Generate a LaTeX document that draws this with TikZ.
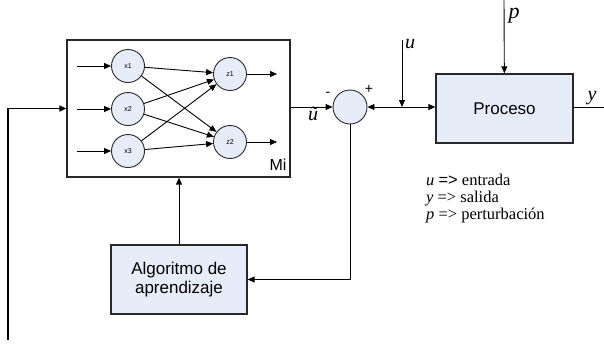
\documentclass[tikz,border=0pt]{standalone}
\usepackage{fontspec}
\setmainfont{Liberation Serif}
\setsansfont{Liberation Sans}
\usetikzlibrary{arrows.meta}
\definecolor{boxfill}{RGB}{231,237,248}
\definecolor{boxline}{RGB}{40,40,40}
\begin{document}
\begin{tikzpicture}[x=1pt,y=-1pt,
  arr/.style={-{Triangle[length=7pt,width=6pt]},line width=0.9pt},
  ln/.style={line width=0.9pt},
  blk/.style={draw=boxline,line width=1.3pt,fill=boxfill,font=\sffamily\fontsize{17}{19}\selectfont,align=center,inner sep=0pt},
  neuron/.style={circle,draw=boxline,line width=0.9pt,fill=boxfill,minimum size=33pt,inner sep=0pt,font=\sffamily\fontsize{7}{8}\selectfont},
  lab/.style={font=\itshape\fontsize{20}{22}\selectfont,inner sep=0pt},
  leg/.style={font=\fontsize{16.5}{17}\selectfont,inner sep=0pt,anchor=base west}]
\useasboundingbox (0,0) rectangle (604,346);
% Mi box
\node[draw=boxline,line width=1.3pt,fill=white,minimum width=223pt,minimum height=137pt,inner sep=0pt] (mi) at (178.5,108.5) {};
\node[font=\sffamily\fontsize{16}{18}\selectfont,inner sep=0pt] (milab) at (278,165) {Mi};
% neurons
\node[neuron] (x1) at (128,66) {x1};
\node[neuron] (x2) at (128,109) {x2};
\node[neuron] (x3) at (128,151) {x3};
\node[neuron] (z1) at (230,74) {z1};
\node[neuron] (z2) at (230,142) {z2};
\coordinate (i1) at (77,66);
\coordinate (i2) at (77,109);
\coordinate (i3) at (77,151);
\coordinate (o1) at (277,74);
\coordinate (o2) at (277,142);
\draw[arr] (i1) -- (x1);
\draw[arr] (i2) -- (x2);
\draw[arr] (i3) -- (x3);
\draw[arr] (z1) -- (o1);
\draw[arr] (z2) -- (o2);
\foreach \a in {x1,x2,x3}{\foreach \b in {z1,z2}{\draw[arr] (\a) -- (\b);}}
% summing junction
\node[circle,draw=boxline,line width=0.9pt,fill=boxfill,minimum size=34pt,inner sep=0pt] (sum) at (350,107) {};
\node[font=\sffamily\fontsize{14}{16}\selectfont,inner sep=0pt] (minus) at (328,94) {-};
\node[font=\sffamily\fontsize{14}{16}\selectfont,inner sep=0pt] (plus) at (369,89) {+};
\node[lab] (ut) at (313,114) {ũ};
\draw[arr] (mi.east |- sum) -- (sum);
% process
\node[blk,minimum width=137pt,minimum height=69pt] (proc) at (504.5,108.5) {Proceso};
\coordinate (j) at (402,107);
\coordinate (utop) at (402,40);
\draw[arr] (utop) -- (j);
\draw[arr] (j) -- (sum);
\draw[arr] (j) -- (proc.west |- j);
\node[lab] (ulab) at (410,44) {u};
\coordinate (ptop) at (504,0);
\draw[arr] (ptop) -- (proc);
\node[lab,font=\itshape\fontsize{22}{24}\selectfont] (plab) at (514,16) {p};
\coordinate (yend) at (604,107);
\draw[ln] (proc.east |- yend) -- (yend);
\node[lab] (ylab) at (592,98) {y};
% legend
\node[leg] (l1) at (426,185) {\textit{u} \textsf{=>} entrada};
\node[leg] (l2) at (426,202) {\textit{y} => salida};
\node[leg] (l3) at (426,219) {\textit{p} => perturbación};
% learning algorithm
\node[blk,minimum width=136pt,minimum height=69pt] (alg) at (179,279.5) {Algoritmo de\\aprendizaje};
\draw[arr] (alg) -- (alg |- mi.south);
\draw[arr] (sum) |- (alg);
% left feedback line
\coordinate (lb) at (8,340);
\draw[arr,line width=1.6pt] (lb) |- (mi.west);
\end{tikzpicture}
\end{document}
